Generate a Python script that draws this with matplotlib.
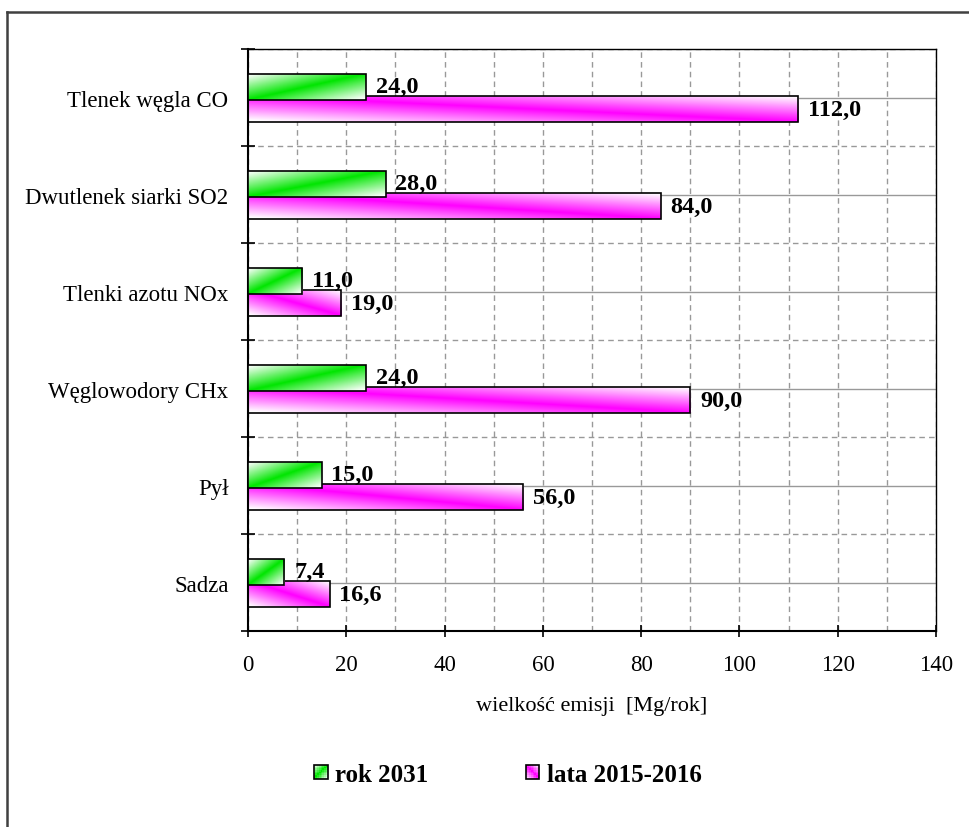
import numpy as np
import matplotlib
matplotlib.use('Agg')
import matplotlib.pyplot as plt
from matplotlib.patches import Rectangle
from matplotlib.lines import Line2D
from matplotlib.legend_handler import HandlerBase

plt.rcParams['font.family'] = ['Liberation Serif', 'DejaVu Serif']

categories = ['Tlenek węgla CO', 'Dwutlenek siarki SO2', 'Tlenki azotu NOx',
              'Węglowodory CHx', 'Pył', 'Sadza']
rok_2031 = [24.0, 28.0, 11.0, 24.0, 15.0, 7.4]
lata_2015 = [112.0, 84.0, 19.0, 90.0, 56.0, 16.6]
series_names = ['rok 2031', 'lata 2015-2016']

GREEN = np.array([0.0, 0.9, 0.0])
MAGENTA = np.array([1.0, 0.0, 1.0])


def grad_green(u, v):
    return np.clip(1 - np.abs(u - v) * 1.05, 0, 1)


def grad_magenta(u, v):
    return np.clip(1 - np.abs(u + v - 1) * 1.05, 0, 1)


def grad_image(col, func, nx=120, ny=30):
    u, v = np.meshgrid(np.linspace(0, 1, nx), np.linspace(0, 1, ny))
    t = func(u, v)[..., None]
    return np.ones(3) * (1 - t) + col * t


fig = plt.figure(figsize=(9.69, 8.28), dpi=100)
ax = fig.add_axes([0.256, 0.2367, 0.71, 0.7029])

n = len(categories)
pos = np.arange(n)[::-1]
h = 0.27
specs = [(rok_2031, 0.11, GREEN, grad_green, 3),
         (lata_2015, -0.12, MAGENTA, grad_magenta, 2)]

for vals, off, col, func, z in specs:
    bars = ax.barh(pos + off, vals, height=h, facecolor='none',
                   edgecolor='black', lw=1.2, zorder=z + 0.5)
    img = grad_image(col, func)
    for b, val in zip(bars, vals):
        y0 = b.get_y()
        im = ax.imshow(img, extent=[0, val, y0, y0 + h], origin='lower',
                       aspect='auto', zorder=z, interpolation='bilinear')
        im.set_clip_path(b)
        ax.annotate('{:.1f}'.format(val).replace('.', ','),
                    xy=(val, y0 + h / 2), xytext=(7, 0),
                    textcoords='offset points', va='center', ha='left',
                    fontsize=17.5, fontweight='bold', zorder=6)

ax.set_xlim(0, 140)
ax.set_ylim(-0.5, n - 0.5)

ax.set_xticks(np.arange(0, 141, 20))
ax.set_xticks(np.arange(0, 141, 10), minor=True)
ax.set_yticks(np.arange(n + 1) - 0.5)
ax.set_yticks(pos, minor=True)
ax.set_yticklabels([], minor=False)
ax.set_yticklabels(categories, minor=True)

ax.tick_params(axis='x', which='major', direction='inout', length=9,
               width=1.2, labelsize=16.5, pad=12)
ax.tick_params(axis='x', which='minor', length=0)
ax.tick_params(axis='y', which='major', direction='inout', length=10,
               width=1.2)
ax.tick_params(axis='y', which='minor', length=0, labelsize=16.5, pad=14)

ax.set_axisbelow(True)
ax.grid(axis='x', which='both', ls=(0, (4, 3)), color='#999999', lw=1)
ax.grid(axis='y', which='major', ls=(0, (4, 3)), color='#999999', lw=1)
ax.grid(axis='y', which='minor', ls='-', color='#999999', lw=1)

for s in ['left', 'bottom']:
    ax.spines[s].set_linewidth(1.5)
for s in ['top', 'right']:
    ax.spines[s].set_linewidth(1.0)

ax.set_xlabel('wielkość emisji  [Mg/rok]', fontsize=16, labelpad=15)


class GradHandler(HandlerBase):
    def __init__(self, col, func):
        super().__init__()
        self.col = col
        self.func = func

    def create_artists(self, legend, orig_handle, xdescent, ydescent,
                       width, height, fontsize, trans):
        arts = []
        k = 8
        side = min(width, height)
        x0 = -xdescent + (width - side) / 2
        y0 = -ydescent + (height - side) / 2
        for i in range(k):
            for j in range(k):
                u = (i + 0.5) / k
                v = (j + 0.5) / k
                t = self.func(np.array(u), np.array(v))
                c = np.ones(3) * (1 - t) + self.col * t
                arts.append(Rectangle((x0 + i * side / k, y0 + j * side / k),
                                      side / k, side / k, facecolor=c,
                                      edgecolor='none', transform=trans))
        arts.append(Rectangle((x0, y0), side, side, facecolor='none',
                              edgecolor='black', lw=1.2, transform=trans))
        return arts


h1 = Rectangle((0, 0), 1, 1)
h2 = Rectangle((0, 0), 1, 1)
fig.legend([h1, h2], series_names, loc='center', ncol=2,
           bbox_to_anchor=(0.524, 0.064), frameon=False,
           prop={'size': 18, 'weight': 'bold'},
           handlelength=0.55, handleheight=0.55, handletextpad=0.3,
           columnspacing=3.9,
           handler_map={h1: GradHandler(GREEN, grad_green),
                        h2: GradHandler(MAGENTA, grad_magenta)})

# outer frame (top and left only visible)
fig.add_artist(Line2D([7 / 969, 1], [1 - 13 / 828, 1 - 13 / 828],
                      transform=fig.transFigure, color='#404040', lw=1.8))
fig.add_artist(Line2D([7 / 969, 7 / 969], [0, 1 - 13 / 828],
                      transform=fig.transFigure, color='#404040', lw=1.8))

fig.savefig('out.png', dpi=100)
